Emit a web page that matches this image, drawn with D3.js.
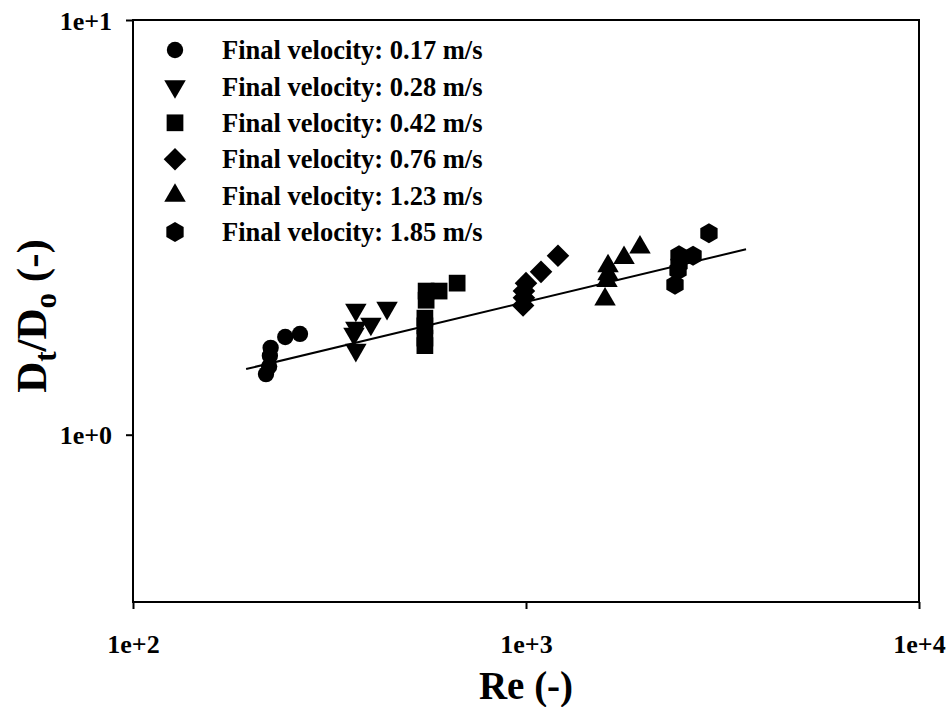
<!DOCTYPE html>
<html>
<head>
<meta charset="utf-8">
<script src="https://cdn.jsdelivr.net/npm/d3@7"></script>
<style>
  html, body { margin: 0; padding: 0; background: #fff; }
  svg { display: block; }
  text { font-family: "Liberation Serif", "Times New Roman", serif; font-weight: bold; fill: #000; }
</style>
</head>
<body>
<svg id="chart" width="951" height="707"></svg>
<script>
// Measured Reynolds number vs. diameter ratio, one series per final velocity
const seriesNames = [
  "Final velocity: 0.17 m/s",
  "Final velocity: 0.28 m/s",
  "Final velocity: 0.42 m/s",
  "Final velocity: 0.76 m/s",
  "Final velocity: 1.23 m/s",
  "Final velocity: 1.85 m/s"
];
const seriesShapes = ["circle", "triangleDown", "square", "diamond", "triangleUp", "hexagon"];

const re017 = [218, 222, 223, 224, 244, 266];
const d017  = [1.40, 1.46, 1.55, 1.62, 1.72, 1.75];

const re028 = [369, 443, 403, 369, 365, 369];
const d028  = [2.00, 2.02, 1.85, 1.81, 1.75, 1.60];

const re042 = [668, 601, 557, 557, 553, 553, 553, 553];
const d042  = [2.32, 2.22, 2.22, 2.11, 1.91, 1.83, 1.71, 1.64];

const re076 = [1206, 1092, 1000, 988, 988, 983];
const d076  = [2.70, 2.47, 2.32, 2.22, 2.14, 2.05];

const re123 = [1950, 1776, 1617, 1617, 1607, 1589];
const d123  = [2.83, 2.67, 2.55, 2.44, 2.35, 2.12];

const re185 = [2921, 2661, 2451, 2451, 2437, 2394];
const d185  = [3.06, 2.70, 2.71, 2.58, 2.49, 2.30];

// Power-law fit, drawn between its two end points
const fitRe = [194, 3630];
const fitD  = [1.44, 2.80];

const xTicks = [100, 1000, 10000];
const xTickLabels = ["1e+2", "1e+3", "1e+4"];
const yTicks = [1, 10];
const yTickLabels = ["1e+0", "1e+1"];

const reSeries = [re017, re028, re042, re076, re123, re185];
const dSeries  = [d017, d028, d042, d076, d123, d185];

const svg = d3.select("#chart");
const margin = { left: 133, top: 20, right: 32, bottom: 105 };
const W = 951, H = 707;

const x = d3.scaleLog().domain([100, 10000]).range([margin.left, W - margin.right]);
const y = d3.scaleLog().domain([0.395, 10]).range([H - margin.bottom, margin.top]);

// Marker paths
const hexPath = (r) => {
  const pts = d3.range(6).map(i => {
    const a = Math.PI / 2 + i * Math.PI / 3;
    return [r * Math.cos(a), r * Math.sin(a)];
  });
  return "M" + pts.map(p => p.join(",")).join("L") + "Z";
};
const shapePath = {
  circle: d3.symbol(d3.symbolCircle, 210)(),
  square: d3.symbol(d3.symbolSquare, 280)(),
  triangleUp: d3.symbol(d3.symbolTriangle, 200)(),
  triangleDown: d3.symbol(d3.symbolTriangle, 200)(),
  diamond: d3.symbol(d3.symbolSquare, 255)(),
  hexagon: hexPath(10)
};
const shapeRotate = { circle: 0, square: 0, triangleUp: 0, triangleDown: 180, diamond: 45, hexagon: 0 };

function drawMarker(g, shape, cx, cy) {
  g.append("path")
    .attr("d", shapePath[shape])
    .attr("transform", `translate(${cx},${cy}) rotate(${shapeRotate[shape]})`)
    .attr("fill", "#000");
}

// Frame
const x0 = x.range()[0], x1 = x.range()[1];
const y0 = y.range()[0], y1 = y.range()[1];
svg.append("rect")
  .attr("x", x0).attr("y", y1)
  .attr("width", x1 - x0).attr("height", y0 - y1)
  .attr("fill", "none").attr("stroke", "#000").attr("stroke-width", 2);

// Axes (major ticks only)
const xAxis = d3.axisBottom(x).tickValues(xTicks)
  .tickFormat((d, i) => xTickLabels[i]).tickSize(7).tickSizeOuter(0);
const yAxis = d3.axisLeft(y).tickValues(yTicks)
  .tickFormat((d, i) => yTickLabels[i]).tickSize(7).tickSizeOuter(0);

const gx = svg.append("g").attr("transform", `translate(0,${y0})`).call(xAxis);
const gy = svg.append("g").attr("transform", `translate(${x0},0)`).call(yAxis);
[gx, gy].forEach(g => {
  g.select(".domain").remove();
  g.selectAll(".tick line").attr("stroke", "#000").attr("stroke-width", 2);
  g.selectAll(".tick text")
    .attr("font-family", "Liberation Serif, Times New Roman, serif")
    .attr("font-weight", "bold")
    .attr("font-size", 26)
    .attr("fill", "#000");
});
gx.selectAll(".tick text").attr("dy", "0").attr("y", 51);
gy.selectAll(".tick text").attr("x", -21).attr("dy", "0.35em");

// Fit line
svg.append("line")
  .attr("x1", x(fitRe[0])).attr("y1", y(fitD[0]))
  .attr("x2", x(fitRe[1])).attr("y2", y(fitD[1]))
  .attr("stroke", "#000").attr("stroke-width", 2);

// Data markers
const plot = svg.append("g");
reSeries.forEach((res, s) => {
  res.forEach((re, i) => drawMarker(plot, seriesShapes[s], x(re), y(dSeries[s][i])));
});

// Legend
const legend = svg.append("g");
seriesNames.forEach((name, i) => {
  const ly = 50 + i * 36.4;
  drawMarker(legend, seriesShapes[i], 175, ly);
  legend.append("text")
    .attr("x", 222).attr("y", ly).attr("dy", "0.35em")
    .attr("font-size", 26.5)
    .text(name);
});

// Axis titles
svg.append("text")
  .attr("x", (x0 + x1) / 2).attr("y", 699)
  .attr("text-anchor", "middle")
  .attr("font-size", 39)
  .text("Re (-)");

const yt = svg.append("text")
  .attr("transform", `translate(46,316) rotate(-90)`)
  .attr("text-anchor", "middle")
  .attr("font-size", 43);
yt.append("tspan").text("D");
yt.append("tspan").attr("font-size", 31).attr("dy", 10).text("t");
yt.append("tspan").attr("dy", -10).text("/D");
yt.append("tspan").attr("font-size", 31).attr("dy", 10).text("o");
yt.append("tspan").attr("dy", -10).text(" (-)");
</script>
</body>
</html>
